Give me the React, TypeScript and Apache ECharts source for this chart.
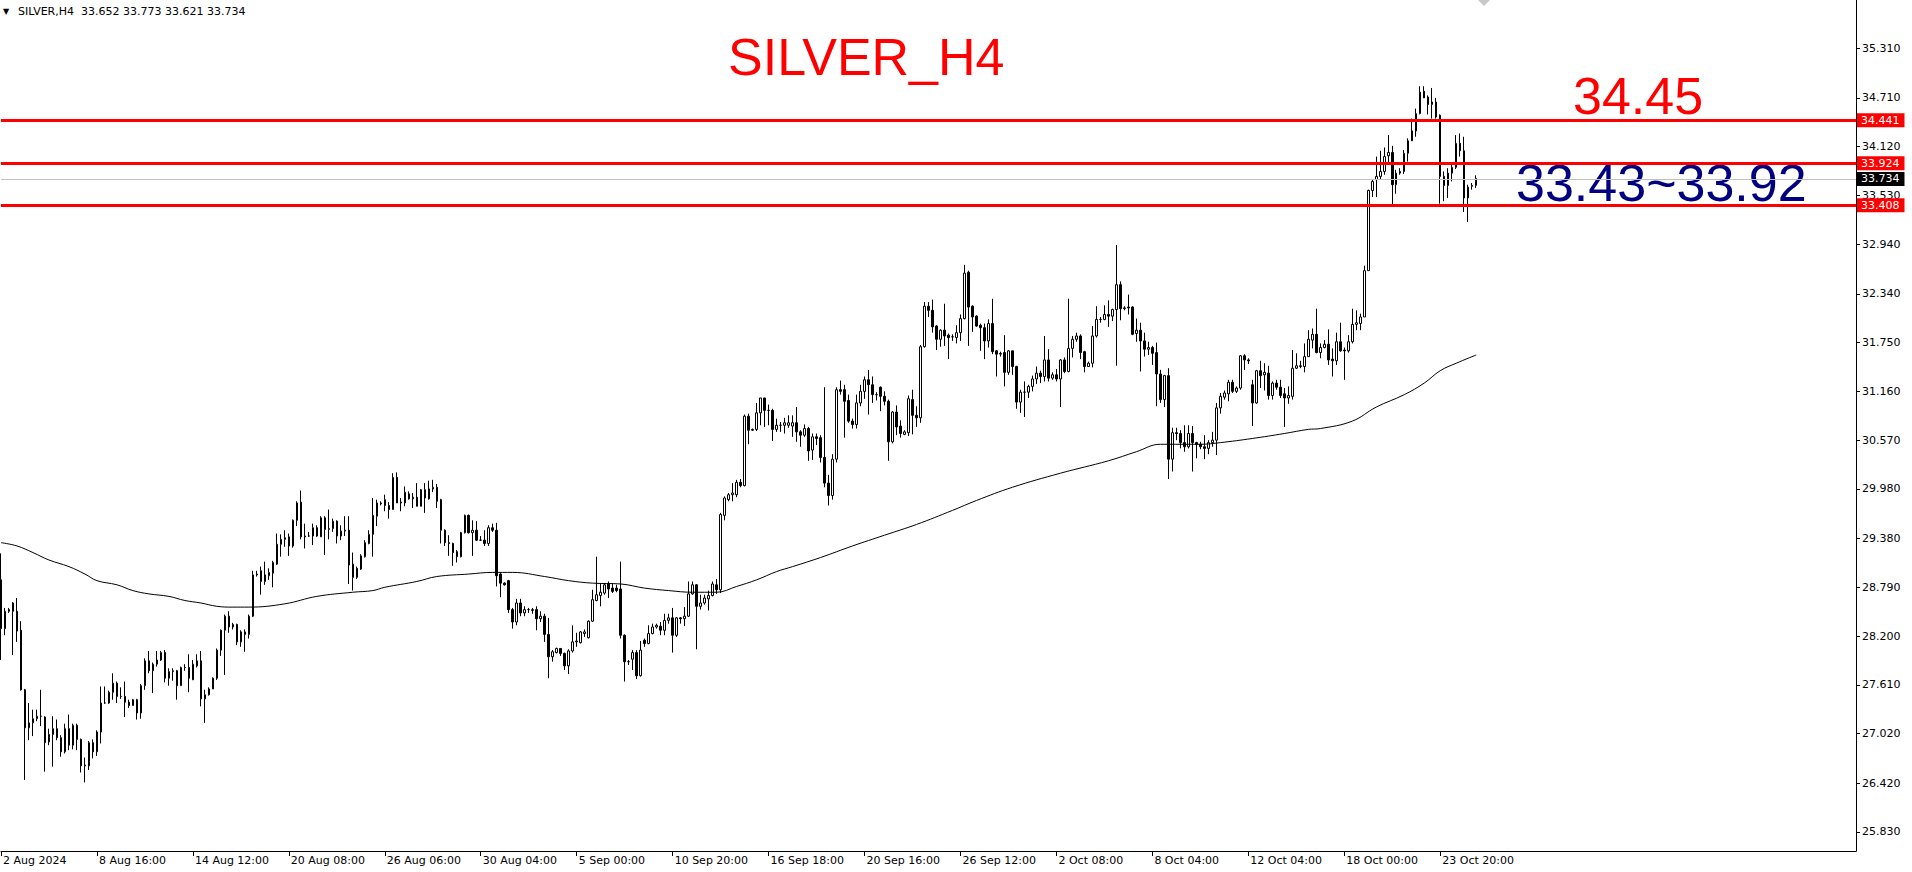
import React, { useEffect, useRef } from "react";
import * as echarts from "echarts";

const opens = [
28.88,28.29,28.50,28.60,28.50,28.27,27.55,27.09,27.15,27.20,
27.23,27.22,26.92,27.01,27.08,26.97,26.80,27.08,26.88,27.12,
26.95,26.63,26.63,26.91,26.80,27.04,27.39,27.39,27.52,27.63,
27.47,27.47,27.40,27.36,27.43,27.27,27.60,27.90,27.78,27.86,
27.91,28.00,27.69,27.77,27.78,27.60,27.82,27.82,27.67,27.84,
27.90,27.44,27.49,27.56,27.69,28.03,28.27,28.44,28.31,28.34,
28.13,28.25,28.22,28.44,28.94,28.99,28.86,28.93,28.96,29.07,
29.31,29.37,29.40,29.29,29.60,29.82,29.41,29.41,29.41,29.51,
29.40,29.63,29.49,29.50,29.59,29.41,29.47,29.48,29.07,28.91,
29.01,29.16,29.32,29.43,29.65,29.81,29.85,29.78,29.73,30.12,
29.82,29.81,29.92,29.86,29.88,29.77,29.97,29.86,29.98,30.00,
29.85,29.48,29.33,29.32,29.22,29.16,29.45,29.66,29.45,29.48,
29.36,29.36,29.32,29.51,29.48,28.95,28.84,28.87,28.52,28.37,
28.60,28.48,28.52,28.51,28.52,28.41,28.44,28.22,27.95,28.00,
28.05,27.99,27.84,28.02,28.13,28.12,28.23,28.18,28.38,28.63,
28.69,28.72,28.83,28.78,28.78,28.77,28.21,27.89,27.92,28.00,
27.72,28.15,28.11,28.23,28.31,28.32,28.27,28.39,28.42,28.21,
28.42,28.41,28.44,28.71,28.82,28.56,28.60,28.65,28.69,28.82,
28.76,29.66,29.85,29.91,29.91,30.06,30.02,30.86,30.69,30.70,
30.90,31.08,30.93,30.93,30.70,30.75,30.75,30.75,30.74,30.78,
30.67,30.63,30.71,30.45,30.61,30.60,30.36,30.05,29.90,30.34,
31.18,31.18,31.05,30.80,30.76,31.02,31.16,31.30,31.24,31.12,
31.21,31.10,31.04,30.55,30.91,30.74,30.64,30.66,31.06,30.87,
30.84,31.70,32.19,32.14,31.95,31.79,31.90,31.84,31.82,31.81,
31.87,32.04,32.60,32.19,32.07,31.96,31.93,31.77,31.98,31.65,
31.61,31.63,31.39,31.65,31.46,31.03,31.15,31.15,31.22,31.31,
31.38,31.34,31.54,31.32,31.36,31.31,31.54,31.40,31.68,31.79,
31.83,31.64,31.46,31.50,31.83,32.03,32.03,32.09,32.07,32.15,
32.45,32.16,32.18,32.18,31.86,31.90,31.77,31.67,31.69,31.63,
31.37,31.06,31.35,30.34,30.66,30.65,30.54,30.49,30.65,30.54,
30.52,30.49,30.47,30.54,30.57,30.96,31.09,31.13,31.27,31.16,
31.20,31.59,31.54,31.24,31.02,31.41,31.36,31.38,31.11,31.26,
31.21,31.13,31.08,31.10,31.44,31.46,31.46,31.58,31.78,31.85,
31.63,31.69,31.73,31.55,31.53,31.76,31.66,31.65,31.76,31.97,
31.98,32.06,32.62,33.59,33.72,33.76,33.82,34.01,34.05,33.66,
33.80,33.82,34.04,34.19,34.31,34.52,34.79,34.72,34.63,34.66,
34.50,33.76,33.65,33.80,33.87,34.16,34.07,33.50,33.64,33.652
];

const highs = [
29.20,28.54,28.54,28.61,28.66,28.38,27.56,27.39,27.31,27.31,
27.55,27.23,27.08,27.23,27.19,27.00,27.14,27.25,27.14,27.14,
26.96,26.73,26.93,26.95,27.06,27.59,27.59,27.54,27.75,27.65,
27.58,27.65,27.43,27.44,27.44,27.62,27.93,28.02,27.88,28.02,
28.02,28.03,27.81,27.81,27.79,27.83,27.86,27.98,27.91,27.98,
28.02,27.55,27.58,27.70,28.05,28.28,28.46,28.50,28.36,28.35,
28.27,28.28,28.46,28.99,28.99,29.04,29.10,29.02,29.11,29.44,
29.43,29.48,29.44,29.61,29.83,29.96,29.56,29.46,29.56,29.54,
29.65,29.65,29.73,29.62,29.60,29.54,29.65,29.65,29.21,29.04,
29.19,29.36,29.48,29.87,29.85,29.83,29.91,29.82,30.17,30.18,
29.87,30.01,29.95,29.93,30.05,29.98,30.05,30.08,30.09,30.04,
29.86,29.49,29.42,29.33,29.24,29.46,29.67,29.67,29.60,29.59,
29.41,29.48,29.54,29.56,29.57,28.97,28.85,28.88,28.54,28.65,
28.65,28.56,28.54,28.54,28.56,28.50,28.47,28.42,28.03,28.06,
28.05,28.00,28.04,28.33,28.24,28.26,28.28,28.39,28.76,29.16,
28.84,28.83,28.86,28.84,28.82,29.10,28.22,27.91,28.03,28.03,
28.14,28.17,28.33,28.35,28.35,28.37,28.47,28.47,28.54,28.43,
28.43,28.55,28.86,28.86,28.83,28.70,28.70,28.75,28.86,28.89,
29.69,29.89,29.93,30.05,30.09,30.10,30.88,30.89,30.71,31.02,
31.08,31.08,31.00,30.95,30.83,30.79,30.84,30.87,30.87,30.97,
30.69,30.76,30.73,30.65,30.65,30.63,31.21,30.15,30.40,31.21,
31.29,31.24,31.12,30.83,31.12,31.24,31.34,31.42,31.34,31.15,
31.22,31.16,31.06,30.92,30.99,30.81,30.69,31.11,31.18,30.98,
31.72,32.24,32.24,32.27,31.96,31.91,32.22,31.86,31.85,31.96,
32.09,32.69,32.62,32.20,32.08,31.98,31.98,32.03,32.28,31.66,
31.64,31.84,31.66,31.65,31.47,31.18,31.28,31.24,31.35,31.46,
31.41,31.83,31.67,31.39,31.43,31.55,31.57,32.28,31.83,31.87,
31.85,31.65,31.52,31.95,32.19,32.06,32.20,32.26,32.16,32.93,
32.49,32.19,32.33,32.19,32.04,31.99,31.87,31.76,31.71,31.75,
31.42,31.36,31.44,30.72,30.72,30.69,30.75,30.75,30.74,30.55,
30.55,30.63,30.57,30.67,31.02,31.14,31.17,31.30,31.30,31.22,
31.60,31.61,31.56,31.30,31.42,31.53,31.50,31.47,31.28,31.30,
31.30,31.20,31.22,31.66,31.62,31.53,31.74,31.90,31.92,32.16,
31.74,31.78,31.91,31.68,31.87,31.99,31.69,31.84,32.16,32.14,
32.10,32.68,33.60,33.73,34.00,34.07,34.11,34.26,34.13,33.84,
33.86,34.08,34.22,34.46,34.58,34.85,34.85,34.74,34.83,34.71,
34.51,33.82,33.86,33.93,34.26,34.28,34.24,33.66,33.68,33.773
];

const lows = [
27.91,28.21,28.48,27.97,28.13,27.54,26.46,26.94,26.99,27.17,
27.11,26.56,26.88,26.62,26.94,26.74,26.78,26.82,26.83,26.82,
26.55,26.43,26.58,26.72,26.75,26.90,27.38,27.38,27.43,27.39,
27.44,27.22,27.33,27.36,27.19,27.20,27.55,27.75,27.51,27.83,
27.90,27.64,27.60,27.66,27.43,27.60,27.78,27.52,27.67,27.82,
27.35,27.15,27.48,27.56,27.67,27.96,27.73,28.24,28.28,28.09,
28.07,28.01,28.17,28.43,28.92,28.70,28.82,28.88,28.79,29.06,
29.16,29.28,29.17,29.27,29.53,29.37,29.26,29.40,29.30,29.40,
29.40,29.18,29.37,29.46,29.32,29.36,29.41,28.83,28.75,28.89,
29.00,29.15,29.31,29.16,29.53,29.78,29.71,29.62,29.73,29.81,
29.71,29.77,29.85,29.75,29.77,29.77,29.69,29.85,29.94,29.75,
29.32,29.29,29.17,29.05,29.09,29.15,29.44,29.44,29.17,29.35,
29.35,29.29,29.29,29.46,28.80,28.67,28.81,28.48,28.29,28.33,
28.44,28.44,28.48,28.47,28.27,28.37,28.13,27.69,27.89,27.99,
27.96,27.79,27.74,28.00,28.07,28.11,28.19,28.17,28.37,28.62,
28.56,28.70,28.66,28.72,28.73,28.17,27.65,27.85,27.79,27.68,
27.71,28.07,28.10,28.22,28.29,28.21,28.21,28.35,28.00,28.19,
28.35,28.32,28.43,28.70,28.04,28.52,28.58,28.51,28.68,28.71,
28.72,29.60,29.83,29.83,29.88,30.00,30.01,30.52,30.68,30.68,
30.75,30.73,30.75,30.56,30.67,30.67,30.65,30.72,30.61,30.55,
30.49,30.61,30.32,30.33,30.51,30.30,30.00,29.78,29.85,30.30,
31.12,30.60,30.78,30.71,30.71,30.98,31.07,30.88,31.02,31.05,
30.92,30.99,30.32,30.53,30.63,30.60,30.63,30.62,30.64,30.73,
30.78,31.69,32.06,31.87,31.66,31.70,31.71,31.55,31.77,31.74,
31.77,32.03,31.71,31.88,31.94,31.65,31.55,31.69,31.61,31.34,
31.58,31.22,31.36,31.36,30.95,30.90,30.85,31.08,31.16,31.25,
31.26,31.28,31.28,31.30,31.28,30.97,31.38,31.39,31.57,31.76,
31.55,31.39,31.46,31.45,31.81,31.99,32.02,31.94,32.01,31.47,
32.02,32.14,32.09,31.84,31.76,31.40,31.58,31.60,31.48,30.98,
31.02,30.97,30.10,30.19,30.57,30.47,30.43,30.47,30.19,30.35,
30.46,30.34,30.40,30.49,30.39,30.89,31.06,31.04,31.14,31.14,
31.18,31.42,31.49,30.74,31.01,31.20,31.17,31.06,31.06,31.18,
31.08,30.73,31.01,31.06,31.43,31.44,31.39,31.58,31.68,31.62,
31.56,31.68,31.48,31.34,31.48,31.64,31.30,31.63,31.74,31.90,
31.90,32.06,32.62,33.51,33.51,33.72,33.78,33.90,33.42,33.55,
33.78,33.79,33.94,34.19,34.24,34.51,34.71,34.51,34.46,34.46,
33.43,33.46,33.50,33.70,33.85,34.00,33.33,33.21,33.60,33.621
];

const closes = [
28.29,28.50,28.52,28.50,28.26,27.55,27.09,27.15,27.20,27.23,
27.23,26.91,27.01,27.08,26.97,26.80,27.08,26.88,27.12,26.95,
26.63,26.64,26.91,26.80,27.04,27.39,27.39,27.52,27.63,27.47,
27.47,27.40,27.36,27.43,27.27,27.60,27.90,27.78,27.86,27.91,
28.00,27.69,27.77,27.78,27.60,27.82,27.82,27.69,27.86,27.90,
27.44,27.49,27.56,27.69,28.03,28.27,28.44,28.31,28.34,28.13,
28.25,28.22,28.44,28.94,28.95,28.86,28.94,28.97,29.09,29.31,
29.37,29.39,29.29,29.60,29.81,29.40,29.40,29.41,29.51,29.41,
29.63,29.49,29.50,29.59,29.41,29.47,29.48,29.06,28.91,29.02,
29.17,29.33,29.43,29.66,29.81,29.80,29.78,29.73,30.12,29.81,
29.81,29.94,29.86,29.88,29.77,29.97,29.87,29.98,30.00,29.83,
29.48,29.33,29.32,29.21,29.16,29.45,29.66,29.45,29.48,29.36,
29.36,29.32,29.51,29.48,28.93,28.84,28.82,28.52,28.37,28.60,
28.48,28.52,28.52,28.52,28.41,28.44,28.22,27.95,28.01,28.05,
27.99,27.84,28.02,28.13,28.14,28.25,28.25,28.38,28.64,28.70,
28.73,28.82,28.77,28.74,28.75,28.21,27.89,27.89,28.00,27.72,
28.03,28.11,28.23,28.31,28.33,28.27,28.39,28.42,28.21,28.42,
28.41,28.44,28.71,28.82,28.56,28.60,28.66,28.69,28.83,28.76,
29.67,29.87,29.91,29.93,30.06,30.02,30.86,30.69,30.70,30.90,
31.08,30.93,30.93,30.70,30.75,30.75,30.78,30.78,30.78,30.67,
30.63,30.71,30.44,30.61,30.59,30.36,30.05,29.90,30.34,31.18,
31.16,31.04,30.80,30.76,31.02,31.16,31.30,31.24,31.12,31.12,
31.10,31.04,30.55,30.91,30.73,30.65,30.67,31.07,30.87,30.84,
31.70,32.19,32.14,31.94,31.79,31.90,31.83,31.81,31.82,31.87,
32.04,32.59,32.18,32.06,31.95,31.93,31.77,31.98,31.64,31.61,
31.62,31.39,31.65,31.46,31.03,31.15,31.15,31.22,31.31,31.38,
31.34,31.54,31.32,31.36,31.31,31.54,31.40,31.68,31.79,31.83,
31.63,31.46,31.50,31.83,32.03,32.03,32.09,32.07,32.15,32.45,
32.16,32.17,32.17,31.85,31.90,31.77,31.67,31.69,31.62,31.37,
31.06,31.35,30.34,30.66,30.65,30.54,30.49,30.65,30.54,30.52,
30.49,30.47,30.54,30.57,30.96,31.10,31.14,31.27,31.16,31.20,
31.59,31.54,31.53,31.02,31.41,31.35,31.39,31.11,31.26,31.21,
31.11,31.08,31.11,31.44,31.47,31.47,31.58,31.79,31.85,31.63,
31.69,31.73,31.54,31.53,31.76,31.65,31.65,31.76,31.97,31.99,
32.06,32.62,33.59,33.70,33.76,33.82,34.00,34.05,33.66,33.80,
33.82,34.04,34.19,34.31,34.52,34.78,34.71,34.63,34.66,34.48,
33.76,33.65,33.80,33.87,34.16,34.07,33.50,33.63,33.65,33.734
];

// moving average at these bar indices
const maIndex = [0,4,8,12,17,21,24,29,33,37,42,46,50,54,58,62,71,79,88,93,96,104,109,117,123,128,136,142,148,155,161,167,173,179,184,189,194,198,205,213,221,229,238,244,253,265,277,284,290,300,305,313,321,327,330,338,344,351,356,360,364,369];
const maValues = [29.33,29.29,29.21,29.12,29.04,28.95,28.87,28.82,28.75,28.71,28.68,28.63,28.60,28.56,28.55,28.55,28.59,28.68,28.73,28.75,28.79,28.86,28.92,28.95,28.97,28.97,28.92,28.87,28.84,28.83,28.78,28.75,28.73,28.73,28.80,28.88,28.98,29.04,29.15,29.29,29.42,29.55,29.72,29.84,30.00,30.17,30.32,30.43,30.52,30.52,30.54,30.59,30.65,30.70,30.71,30.80,30.97,31.12,31.26,31.41,31.50,31.60];

const timeLabels = [
  "2 Aug 2024", "8 Aug 16:00", "14 Aug 12:00", "20 Aug 08:00", "26 Aug 06:00",
  "30 Aug 04:00", "5 Sep 00:00", "10 Sep 20:00", "16 Sep 18:00", "20 Sep 16:00",
  "26 Sep 12:00", "2 Oct 08:00", "8 Oct 04:00", "12 Oct 04:00", "18 Oct 00:00",
  "23 Oct 20:00"
];
const barsPerLabel = 24;
const slotCount = 465;

const yTicks = [35.31, 34.71, 34.12, 33.53, 32.94, 32.34, 31.75, 31.16, 30.57, 29.98, 29.38, 28.79, 28.2, 27.61, 27.02, 26.42, 25.83];
const levelLines = [34.441, 33.924, 33.408];
const bidPrice = 33.734;
const headerText = "SILVER,H4  33.652 33.773 33.621 33.734";
const titleText = "SILVER_H4";
const targetText = "34.45";
const rangeText = "33.43~33.92";

const AXIS_FONT = '"DejaVu Sans", sans-serif';
const BIG_FONT = '"Liberation Sans", Arial, sans-serif';

export default function App() {
  const ref = useRef<HTMLDivElement | null>(null);

  useEffect(() => {
    if (!ref.current) return;
    const chart = echarts.init(ref.current, undefined, { renderer: "svg" });
    const categories = Array.from({ length: slotCount }, (_, i) => String(i));
    const candleData = opens.map((o, i) => [o, closes[i], lows[i], highs[i]]);
    const maData = maIndex.map((x, k) => [x, maValues[k]]);
    const showTick = (i: number) => i % barsPerLabel === 0 && i / barsPerLabel < timeLabels.length;

    const priceLabel = (bg: string) => ({
      show: true,
      position: "end",
      distance: 1,
      color: "#ffffff",
      backgroundColor: bg,
      fontFamily: AXIS_FONT,
      fontSize: 11,
      lineHeight: 14,
      padding: [0, 5, 0, 4],
    });

    chart.setOption({
      animation: false,
      backgroundColor: "#ffffff",
      grid: { left: 0, top: 0, right: 56, bottom: 21, containLabel: false },
      xAxis: {
        type: "category",
        data: categories,
        boundaryGap: false,
        axisLine: { show: true, lineStyle: { color: "#000000", width: 1 } },
        axisTick: { show: true, interval: (i: number) => showTick(i), length: 5, lineStyle: { color: "#000000" } },
        axisLabel: {
          interval: (i: number) => showTick(i),
          formatter: (_v: string, i: number) => timeLabels[i / barsPerLabel] ?? "",
          align: "left",
          margin: 4,
          padding: [0, 0, 0, 2],
          color: "#000000",
          fontFamily: AXIS_FONT,
          fontSize: 11,
        },
        splitLine: { show: false },
      },
      yAxis: {
        type: "value",
        position: "right",
        min: 25.6,
        max: 35.894,
        scale: true,
        axisLine: { show: true, lineStyle: { color: "#000000", width: 1 } },
        axisTick: { show: true, customValues: yTicks, length: 4, lineStyle: { color: "#000000" } },
        axisLabel: {
          customValues: yTicks,
          formatter: (v: number) => v.toFixed(3),
          margin: 6,
          color: "#000000",
          fontFamily: AXIS_FONT,
          fontSize: 11,
        },
        splitLine: { show: false },
      },
      series: [
        {
          type: "candlestick",
          data: candleData,
          barWidth: 2,
          itemStyle: {
            color: "#ffffff",
            color0: "#000000",
            borderColor: "#000000",
            borderColor0: "#000000",
            borderWidth: 1,
          },
          markLine: {
            symbol: "none",
            silent: true,
            data: [
              ...levelLines.map((v) => ({
                yAxis: v,
                lineStyle: { color: "#ff0000", width: 3, type: "solid" },
                label: { ...priceLabel("#ff0000"), formatter: v.toFixed(3) },
              })),
              {
                yAxis: bidPrice,
                lineStyle: { color: "#c0c0c0", width: 1, type: "solid" },
                label: { ...priceLabel("#000000"), formatter: bidPrice.toFixed(3) },
              },
            ],
          },
        },
        {
          type: "line",
          data: maData,
          smooth: 0.4,
          symbol: "none",
          lineStyle: { color: "#000000", width: 1 },
          z: 3,
        },
      ],
      graphic: [
        { type: "text", x: 3, y: 11, style: { text: "\u25BC", font: `8px ${AXIS_FONT}`, fill: "#000000", verticalAlign: "middle", textVerticalAlign: "middle" } },
        { type: "text", x: 18, y: 11, style: { text: headerText, font: `11px ${AXIS_FONT}`, fill: "#000000", verticalAlign: "middle", textVerticalAlign: "middle" } },
        { type: "text", x: 728, y: 57, style: { text: titleText, font: `52px ${BIG_FONT}`, fill: "#ff0000", verticalAlign: "middle", textVerticalAlign: "middle" } },
        { type: "text", x: 1573, y: 96, style: { text: targetText, font: `52px ${BIG_FONT}`, fill: "#ff0000", verticalAlign: "middle", textVerticalAlign: "middle" } },
        { type: "text", x: 1516, y: 183, style: { text: rangeText, font: `52px ${BIG_FONT}`, fill: "#000080", verticalAlign: "middle", textVerticalAlign: "middle" } },
        { type: "polygon", shape: { points: [[1478, 0], [1490, 0], [1484, 6]] }, style: { fill: "#c8c8c8" } },
      ],
    });

    return () => chart.dispose();
  }, []);

  return (
    <div
      ref={ref}
      style={{ position: "fixed", left: 0, top: 0, width: 1912, height: 872, background: "#ffffff" }}
    />
  );
}
